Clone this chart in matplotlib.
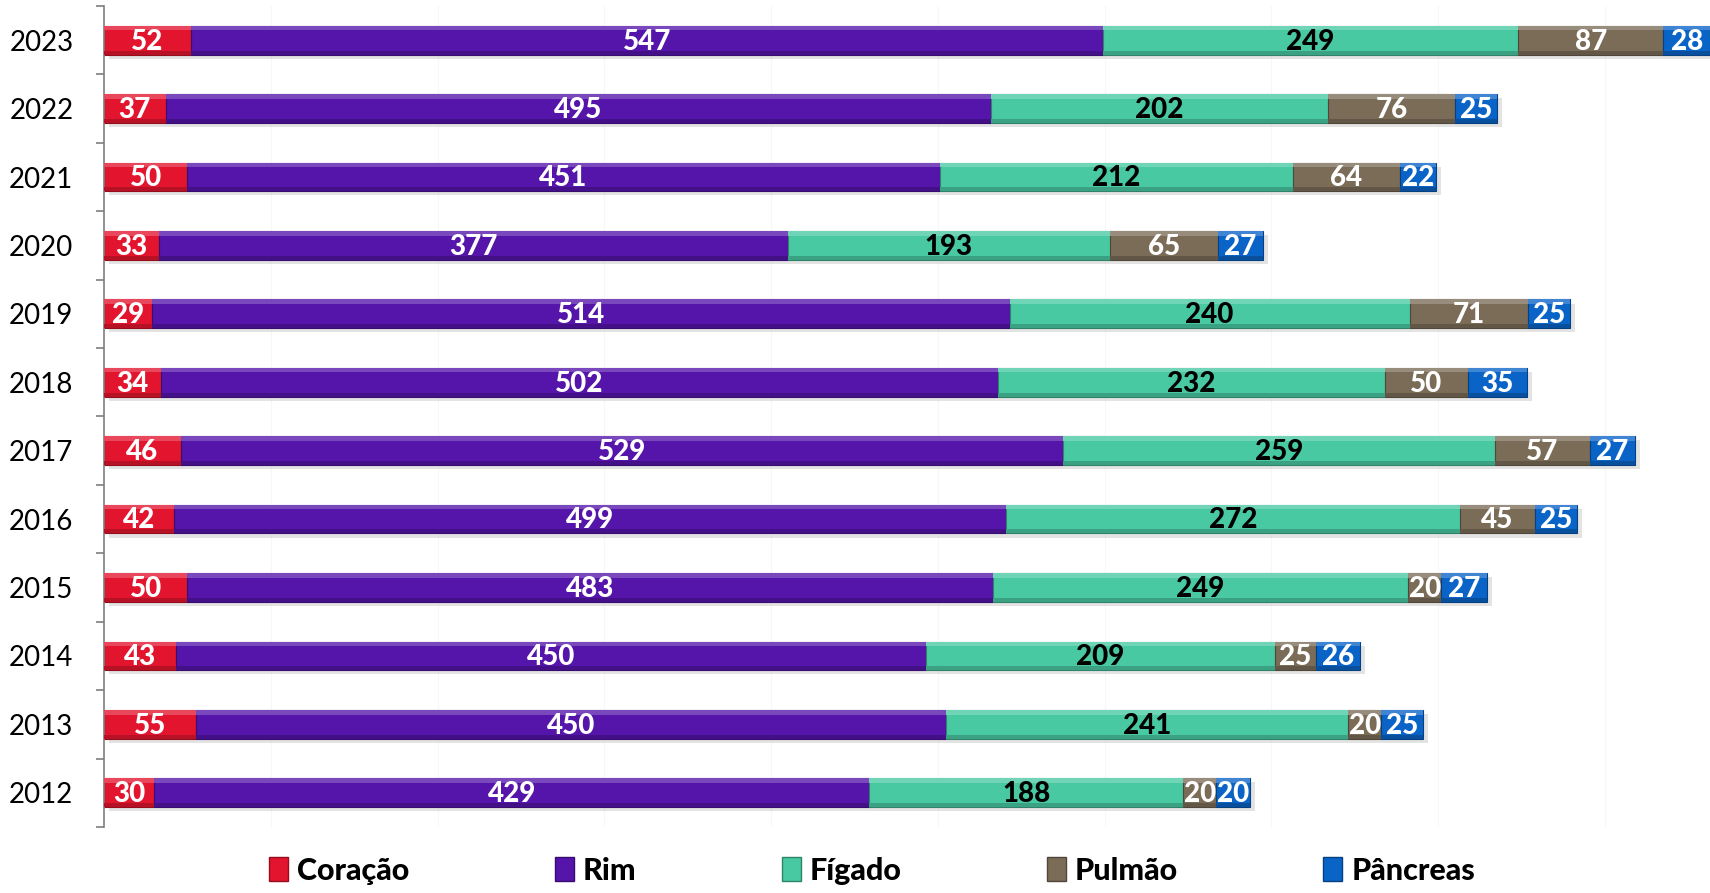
import numpy as np
import matplotlib.pyplot as plt
import matplotlib.colors as mcolors
from matplotlib.patches import Rectangle

plt.rcParams['font.family'] = ['Lato', 'DejaVu Sans']

# Data
years = ["2012", "2013", "2014", "2015", "2016", "2017",
         "2018", "2019", "2020", "2021", "2022", "2023"]
coracao = [30, 55, 43, 50, 42, 46, 34, 29, 33, 50, 37, 52]
rim = [429, 450, 450, 483, 499, 529, 502, 514, 377, 451, 495, 547]
figado = [188, 241, 209, 249, 272, 259, 232, 240, 193, 212, 202, 249]
pulmao = [20, 20, 25, 20, 45, 57, 50, 71, 65, 64, 76, 87]
pancreas = [20, 25, 26, 27, 25, 27, 35, 25, 27, 22, 25, 28]

series = [
    ("Coração", coracao, "#E3152E", "white"),
    ("Rim", rim, "#5514AA", "white"),
    ("Fígado", figado, "#48C9A2", "black"),
    ("Pulmão", pulmao, "#7B6C58", "white"),
    ("Pâncreas", pancreas, "#0A63C6", "white"),
]


def shade(color, f):
    r, g, b = mcolors.to_rgb(color)
    if f > 0:
        return (r + (1 - r) * f, g + (1 - g) * f, b + (1 - b) * f)
    return (r * (1 + f), g * (1 + f), b * (1 + f))


fig = plt.figure(figsize=(17.1, 8.93), dpi=100)
ax = fig.add_axes([0.0608, 0.074, 0.9392, 0.9193])

y = np.arange(len(years))
h = 0.42
left = np.zeros(len(years))

# soft shadow under each full bar
totals = np.sum([s[1] for s in series], axis=0)
for yi, t in zip(y, totals):
    ax.add_patch(Rectangle((3, yi - h / 2 - 0.06), t, h, color="#b0b0b0",
                           alpha=0.35, lw=0, zorder=1))

for name, vals, col, tcol in series:
    vals = np.array(vals)
    ax.barh(y, vals, height=h, left=left, color=col,
            edgecolor=shade(col, -0.35), linewidth=0.8, zorder=2)
    # bevel: light top band, dark bottom band
    ax.barh(y + h / 2 - h * 0.08, vals, height=h * 0.16, left=left,
            color=shade(col, 0.22), linewidth=0, zorder=3)
    ax.barh(y - h / 2 + h * 0.07, vals, height=h * 0.14, left=left,
            color=shade(col, -0.2), linewidth=0, zorder=3)
    for yi, l, v in zip(y, left, vals):
        ax.text(l + v / 2, yi - 0.02, str(v), ha="center", va="center",
                color=tcol, fontsize=20, fontweight="black", zorder=5)
    left = left + vals

ax.set_xlim(0, totals.max())
ax.set_ylim(-0.5, len(years) - 0.5)

ax.set_xticks(np.arange(100, 1000, 100))
ax.xaxis.grid(True, color="#f7f7f7", lw=0.8, zorder=0)
ax.set_axisbelow(True)
ax.tick_params(axis="x", length=0, labelbottom=False)

ax.set_yticks(y)
ax.set_yticklabels(years, fontsize=20)
ax.set_yticks(np.arange(-0.5, len(years), 1), minor=True)
ax.tick_params(axis="y", which="major", length=0, pad=22)
ax.tick_params(axis="y", which="minor", length=6, width=1.2,
               color="#7f7f7f", direction="out")

for s in ["top", "right", "bottom"]:
    ax.spines[s].set_visible(False)
ax.spines["left"].set_color("#7f7f7f")
ax.spines["left"].set_linewidth(1.2)

handles = [Rectangle((0, 0), 1, 1, facecolor=c, edgecolor=shade(c, -0.35))
           for _, _, c, _ in series]
fig.legend(handles, [s[0] for s in series], loc="center",
           bbox_to_anchor=(0.51, 0.025), ncol=5, frameon=False,
           prop={"size": 22, "weight": "black"}, handlelength=0.62,
           handleheight=0.85, handletextpad=0.3, columnspacing=4.75)

plt.savefig("out.png", dpi=100)
